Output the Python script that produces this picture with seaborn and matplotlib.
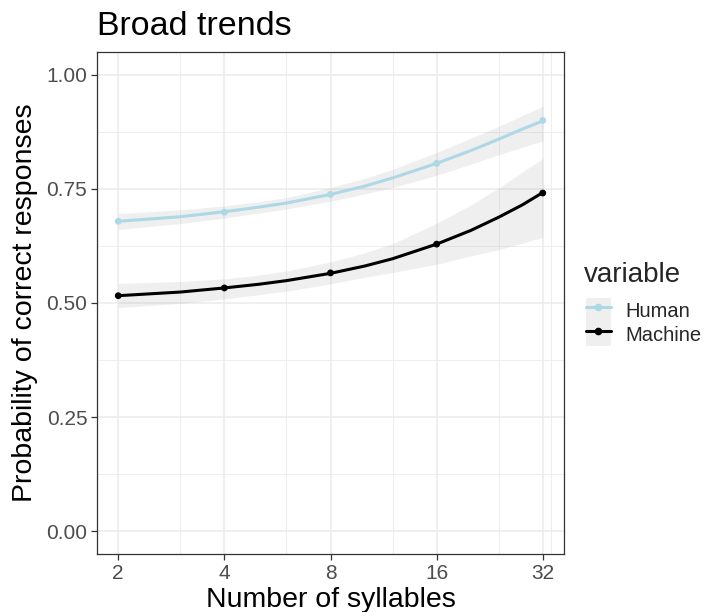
import numpy as np
import pandas as pd
import matplotlib
matplotlib.use("Agg")
import matplotlib.pyplot as plt
from matplotlib.lines import Line2D
from matplotlib.patches import Patch
import seaborn as sns

# fitted curves, x = number of syllables
curve_x = [2, 3, 4, 5, 6, 8, 10, 12, 16, 20, 24, 28, 32]
human_fit = [0.679, 0.689, 0.700, 0.710, 0.719, 0.738, 0.756, 0.774, 0.806, 0.834, 0.859, 0.881, 0.899]
human_lo = [0.661, 0.674, 0.686, 0.697, 0.706, 0.723, 0.739, 0.753, 0.780, 0.804, 0.825, 0.841, 0.855]
human_hi = [0.696, 0.704, 0.713, 0.722, 0.731, 0.753, 0.773, 0.793, 0.830, 0.861, 0.887, 0.911, 0.931]
machine_fit = [0.516, 0.524, 0.533, 0.541, 0.549, 0.565, 0.581, 0.597, 0.629, 0.659, 0.688, 0.715, 0.742]
machine_lo = [0.490, 0.499, 0.509, 0.518, 0.526, 0.542, 0.556, 0.567, 0.585, 0.603, 0.617, 0.631, 0.644]
machine_hi = [0.543, 0.547, 0.553, 0.561, 0.570, 0.590, 0.610, 0.630, 0.675, 0.715, 0.752, 0.787, 0.817]

# observed points
syllables = [2, 4, 8, 16, 32]
human_pts = [0.679, 0.699, 0.738, 0.806, 0.900]
machine_pts = [0.516, 0.533, 0.566, 0.629, 0.741]

series = ["Human", "Machine"]
colors = {"Human": "#ADD8E6", "Machine": "#000000"}
ribbon_color = "#999999"

y_ticks = [0.00, 0.25, 0.50, 0.75, 1.00]
y_minor = [0.125, 0.375, 0.625, 0.875]
x_minor = [3, 6, 12, 24, 33.7]

# --- tidy frames ---
curves = pd.DataFrame({
    "x": curve_x * 2,
    "fit": human_fit + machine_fit,
    "lo": human_lo + machine_lo,
    "hi": human_hi + machine_hi,
    "variable": ["Human"] * len(curve_x) + ["Machine"] * len(curve_x),
})
points = pd.DataFrame({
    "x": syllables * 2,
    "p": human_pts + machine_pts,
    "variable": ["Human"] * len(syllables) + ["Machine"] * len(syllables),
})

sns.set_theme(style="white")
plt.rcParams["font.family"] = ["Liberation Sans", "DejaVu Sans"]

fig = plt.figure(figsize=(7.12, 6.12), dpi=100)
ax = fig.add_axes([97 / 712, 1 - 554 / 612, (564 - 97) / 712, (554 - 52) / 612])

ax.set_xscale("log", base=2)

# grid
for v in y_ticks:
    ax.axhline(v, color="#EBEBEB", lw=1.1, zorder=0)
for v in y_minor:
    ax.axhline(v, color="#EBEBEB", lw=0.6, zorder=0)
for v in syllables:
    ax.axvline(v, color="#EBEBEB", lw=1.1, zorder=0)
for v in x_minor:
    ax.axvline(v, color="#EBEBEB", lw=0.6, zorder=0)

# ribbons
for name in series:
    d = curves[curves["variable"] == name]
    ax.fill_between(d["x"], d["lo"], d["hi"], color=ribbon_color, alpha=0.15, lw=0, zorder=1)

sns.lineplot(data=curves, x="x", y="fit", hue="variable", palette=colors,
             linewidth=2.2, legend=False, ax=ax, zorder=2)
sns.scatterplot(data=points, x="x", y="p", hue="variable", palette=colors,
                s=24, edgecolor=None, linewidth=0, legend=False, ax=ax, zorder=3)

ax.set_xlim(2 ** 0.8, 2 ** 5.2)
ax.set_ylim(-0.05, 1.05)
ax.set_xticks(syllables)
ax.set_xticklabels([str(s) for s in syllables])
ax.xaxis.set_minor_locator(matplotlib.ticker.NullLocator())
ax.set_yticks(y_ticks)
ax.set_yticklabels([f"{v:.2f}" for v in y_ticks])

ax.tick_params(axis="both", which="major", length=4.5, width=0.9, color="#333333",
               labelsize=15, labelcolor="#4D4D4D", pad=2.5, direction="out",
               bottom=True, left=True)
for sp in ax.spines.values():
    sp.set_color("#333333")
    sp.set_linewidth(0.9)

ax.set_xlabel("Number of syllables", fontsize=20.5, color="black", labelpad=3)
ax.set_ylabel("Probability of correct responses", fontsize=20.5, color="black", labelpad=6)
ax.set_title("Broad trends", fontsize=24.5, loc="left", pad=12, color="black")

# legend with grey key background like ggplot
fig.text(584 / 712, 1 - 282 / 612, "variable", fontsize=20, ha="left", va="baseline")
handles = []
for name in series:
    handles.append((Patch(facecolor=ribbon_color, alpha=0.15, edgecolor="none"),
                    Line2D([], [], color=colors[name], lw=2.2, marker="o", markersize=4.5)))
fig.legend(handles, series, loc="upper left",
           bbox_to_anchor=(586 / 712, 1 - 298 / 612), frameon=False,
           fontsize=14.5, handlelength=1.24, handleheight=1.45,
           labelspacing=0.0, handletextpad=0.7, borderaxespad=0, borderpad=0)

fig.savefig("out.png", dpi=100)
